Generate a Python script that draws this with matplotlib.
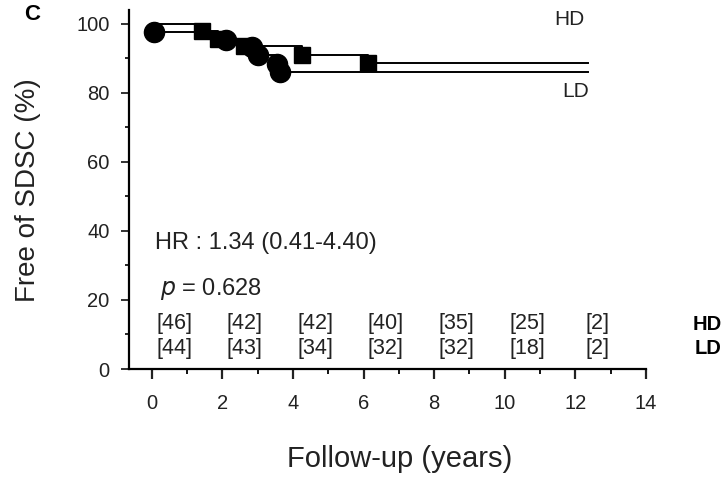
import numpy as np
import matplotlib.pyplot as plt
from matplotlib.ticker import MultipleLocator

plt.rcParams['font.family'] = ['Liberation Sans', 'DejaVu Sans']

# Kaplan-Meier steps (years, % free of SDSC)
hd_times = [0, 1.43, 1.88, 2.6, 4.24, 6.11]
hd_surv = [100, 97.8, 95.6, 93.5, 90.9, 88.7]
ld_times = [0, 0.06, 2.1, 2.83, 3.02, 3.55, 3.63]
ld_surv = [100, 97.7, 95.4, 93.2, 90.9, 88.4, 86.1]
end_time = 12.35

# numbers at risk
risk_times = [0, 2, 4, 6, 8, 10, 12]
risk_hd = [46, 42, 42, 40, 35, 25, 2]
risk_ld = [44, 43, 34, 32, 32, 18, 2]

fig = plt.figure(figsize=(7.28, 4.78), dpi=100)
ax = fig.add_axes([0.1772, 0.228, 0.710, 0.751])


def km_curve(ax, t, s, marker, ms):
    tt = list(t) + [end_time]
    ss = list(s) + [s[-1]]
    ax.step(tt, ss, where='post', color='k', lw=1.4, zorder=2)
    ax.plot(t[1:], s[1:], ls='none', marker=marker, ms=ms, color='k', zorder=3)


km_curve(ax, hd_times, hd_surv, 's', 11.5)
km_curve(ax, ld_times, ld_surv, 'o', 14.5)

ax.set_xlim(-0.65, 14.0)
ax.set_ylim(0, 104)
ax.set_xticks(np.arange(0, 15, 2))
ax.xaxis.set_minor_locator(MultipleLocator(1))
ax.set_yticks(np.arange(0, 101, 20))
ax.yaxis.set_minor_locator(MultipleLocator(10))

for side in ['top', 'right']:
    ax.spines[side].set_visible(False)
for side in ['left', 'bottom']:
    ax.spines[side].set_linewidth(1.6)
ax.spines['left'].set_bounds(0, 104)

ax.tick_params(axis='x', which='major', direction='out', length=7, width=1.6,
               pad=11, labelsize=14.5, colors='#222222')
ax.tick_params(axis='x', which='minor', direction='out', length=3.5, width=1.3)
ax.tick_params(axis='y', which='major', direction='out', length=6, width=1.3,
               pad=8, labelsize=14.5, colors='#222222')
ax.tick_params(axis='y', which='minor', direction='out', length=3, width=1.2)

# at-risk table
for t, n1, n2 in zip(risk_times, risk_hd, risk_ld):
    ax.text(t + 0.63, 13.1, f'[{n1}]', ha='center', va='center', fontsize=15.5, color='#222222')
    ax.text(t + 0.63, 5.8, f'[{n2}]', ha='center', va='center', fontsize=15.5, color='#222222')
fig.text(722 / 728, 1 - 324 / 478, 'HD', ha='right', va='center', fontsize=14.5, weight='bold')
fig.text(722 / 728, 1 - 349 / 478, 'LD', ha='right', va='center', fontsize=14.5, weight='bold')

ax.text(11.84, 101.2, 'HD', ha='center', va='center', fontsize=15, color='#222222')
ax.text(12.0, 80.4, 'LD', ha='center', va='center', fontsize=15, color='#222222')

ax.text(0.08, 36.5, 'HR : 1.34 (0.41-4.40)', ha='left', va='center', fontsize=17, color='#222222')
ax.text(0.23, 23.2, r'$p$ = 0.628', ha='left', va='center', fontsize=17, color='#222222')

fig.text(28 / 728, 1 - 190 / 478, 'Free of SDSC (%)', rotation=90, ha='center', va='center',
         fontsize=20, color='#222222')
fig.text(400 / 728, 1 - 459 / 478, 'Follow-up (years)', ha='center', va='center',
         fontsize=21, color='#222222')
fig.text(32 / 728, 1 - 15 / 478, 'C', ha='center', va='center', fontsize=16, weight='bold')

plt.savefig('out.png', dpi=100)
